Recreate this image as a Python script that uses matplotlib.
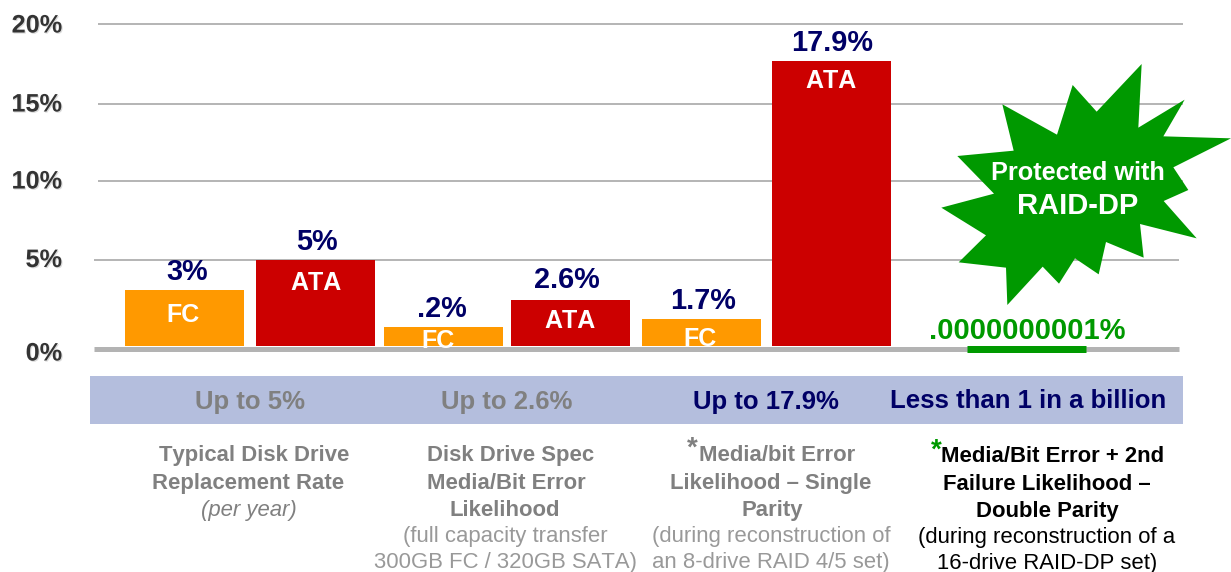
import numpy as np
import matplotlib
matplotlib.use("Agg")
import matplotlib.pyplot as plt
from matplotlib import patheffects as pe
from matplotlib.patches import Polygon, Rectangle
from matplotlib.transforms import ScaledTranslation

plt.rcParams['font.family'] = ['Liberation Sans', 'DejaVu Sans']
plt.rcParams['text.kerning_factor'] = 6

# ---- data ----
tick_values = [0, 5, 10, 15, 20]
tick_labels = ['0%', '5%', '10%', '15%', '20%']
fc_values = [3, 0.2, 1.7]
ata_values = [5, 2.6, 17.9]
fc_text = ['3%', '.2%', '1.7%']
ata_text = ['5%', '2.6%', '17.9%']
raid_dp_value = 0.0000000001
raid_dp_text = '.0000000001%'
band_labels = ['Up to 5%', 'Up to 2.6%', 'Up to 17.9%', 'Less than 1 in a billion']

# ---- layout ----
W, H = 1231, 572
DPI = 100
px = 0.72  # points per pixel
# the source chart's value axis is hand-drawn: value -> height above baseline in px
scale_vals = np.array([0, .2, 1.7, 2.6, 3, 5, 10, 15, 17.9, 20])
scale_px = np.array([0, 19, 27, 46, 56, 86, 165, 242, 285, 322], float)

fig = plt.figure(figsize=(W / DPI, H / DPI), dpi=DPI, facecolor='white')
AX_L, AX_R, AX_T, AX_B = 94, 1183, 24, 346
ax = fig.add_axes([AX_L / W, 1 - AX_B / H, (AX_R - AX_L) / W, (AX_B - AX_T) / H])
ax.set_yscale('function', functions=(lambda v: np.interp(v, scale_vals, scale_px),
                                     lambda p: np.interp(p, scale_px, scale_vals)))
ax.set_ylim(0, 20)
ax.set_xlim(AX_L, AX_R)
ax.patch.set_alpha(0)

fc_x = [184.5, 443.2, 701.5]
ata_x = [315.5, 570.5, 831.5]
raid_x = 1026.5
BAR_W = 119
ax.bar(fc_x, fc_values, width=BAR_W, color='#ff9900', zorder=3)
ax.bar(ata_x, ata_values, width=BAR_W, color='#cc0000', zorder=3)
shift = ScaledTranslation(0, -3.5 / DPI, fig.dpi_scale_trans)
ax.plot([raid_x - BAR_W / 2, raid_x + BAR_W / 2], [raid_dp_value, raid_dp_value],
        color='#009900', lw=7 * px, solid_capstyle='butt', clip_on=False, zorder=4,
        transform=ax.transData + shift)

ax.set_yticks(tick_values, tick_labels, fontsize=18.2, fontweight='bold', color='#333333')
ax.set_xticks([])
ax.tick_params(axis='y', length=0, pad=31 * px)
ax.minorticks_off()
ax.grid(axis='y', color='#b6b6b6', lw=2 * px, zorder=1)
ax.set_axisbelow(True)
span = AX_R - AX_L
for gl, v in zip(ax.yaxis.get_gridlines(), tick_values):
    gl.set_clip_on(False)
    gl.set_solid_capstyle('butt')
    if v == 0:
        gl.set_visible(False)
    elif v == 5:
        gl.set_xdata([0, (1179 - AX_L) / span])
    else:
        gl.set_xdata([(98 - AX_L) / span, 1])
for s in ('top', 'left', 'right'):
    ax.spines[s].set_visible(False)
bottom = ax.spines['bottom']
bottom.set_color('#b3b3b3')
bottom.set_linewidth(5 * px)
bottom.set_position(('outward', 2.5 * px))
bottom.set_bounds(94, 1179)
bottom.set_capstyle('butt')
bottom.set_zorder(2)
label_up = {0: -5, 5: 2.5, 10: 2, 15: 2, 20: 1}
for lab, v in zip(ax.get_yticklabels(), tick_values):
    lab.set_transform(lab.get_transform() + ScaledTranslation(-1 / DPI, label_up[v] / DPI, fig.dpi_scale_trans))
    lab.set_path_effects([pe.withSimplePatchShadow(offset=(0.8, -0.8), alpha=0.3, shadow_rgbFace='#888888')])

# ---- overlay in pixel coordinates for annotations ----
ov = fig.add_axes([0, 0, 1, 1])
ov.set_xlim(0, W)
ov.set_ylim(H, 0)
ov.axis('off')
ov.patch.set_alpha(0)

def T(x, y, s, size=16, color='k', weight='bold', ha='center', style='normal', **kw):
    return ov.text(x, y - 1, s, fontsize=size, color=color, fontweight=weight, ha=ha,
                   va='center_baseline', fontstyle=style, **kw)

# value labels
NAVY = '#000066'
for (x, y), s in zip([(187, 270), (442, 307), (703, 299)], fc_text):
    T(x, y, s, 20.8, NAVY)
for (x, y), s in zip([(317, 240), (567, 278), (832, 41)], ata_text):
    T(x, y, s, 20.8, NAVY)
T(1027, 329, raid_dp_text, 21, '#009900')
# bar labels
for x, y in [(183, 313), (438, 340), (700, 338)]:
    T(x, y, 'FC', 18, 'white')
for x, y in [(316, 281), (570, 319), (831, 79)]:
    T(x, y, 'ATA', 18, 'white')

# band
ov.add_patch(Rectangle((90, 376), 1093, 48, color='#b4bedd', lw=0))
for x, s, c in zip([250, 507, 766, 1028], band_labels, ['#808080', '#808080', NAVY, NAVY]):
    T(x, 400, s, 18.5, c)

# descriptions
G1 = '#808080'
G2 = '#999999'
SZ = 15.9
T(254, 454, 'Typical Disk Drive', SZ, G1)
T(248, 482, 'Replacement Rate', SZ, G1)
T(249, 509, '(per year)', SZ, G1, 'normal', style='italic')

T(511, 454, 'Disk Drive Spec', SZ, G1)
T(506, 482, 'Media/Bit Error', SZ, G1)
T(505, 509, 'Likelihood', SZ, G1)
T(505, 535, '(full capacity transfer', SZ, G2, 'normal')
T(505, 561, '300GB FC / 320GB SATA)', SZ, G2, 'normal')

T(692, 447, '*', 20, G1)
T(777, 454, 'Media/bit Error', SZ, G1)
T(771, 482, 'Likelihood – Single', SZ, G1)
T(772, 509, 'Parity', SZ, G1)
T(771, 535, '(during reconstruction of', SZ, G2, 'normal')
T(771, 561, 'an 8-drive RAID 4/5 set)', SZ, G2, 'normal')

T(936, 449, '*', 20, '#009900')
T(1053, 455, 'Media/Bit Error + 2nd', SZ, 'black')
T(1047, 483, 'Failure Likelihood –', SZ, 'black')
T(1047, 510, 'Double Parity', SZ, 'black')
T(1047, 536, '(during reconstruction of a', SZ, 'black', 'normal')
T(1047, 562, '16-drive RAID-DP set)', SZ, 'black', 'normal')

# starburst callout
star_zoom = [(785, 42), (775, 233), (914, 149), (850, 259), (1053, 265), (880, 352), (925, 420),
             (851, 453), (950, 565), (780, 522), (791, 623), (678, 576), (656, 673), (585, 625),
             (537, 701), (488, 650), (382, 765), (378, 653), (236, 637), (318, 556), (184, 473),
             (342, 431), (232, 318), (401, 302), (367, 163), (531, 254), (578, 105), (650, 185)]
ov.add_patch(Polygon([(880 + a / 3, 50 + b / 3) for a, b in star_zoom], closed=True,
                     color='#009900', lw=0, zorder=5))
T(1078, 172, 'Protected with', 18.2, 'white', zorder=6)
T(1078, 204, 'RAID-DP', 21, 'white', zorder=6)

fig.savefig('out.png', dpi=DPI)
